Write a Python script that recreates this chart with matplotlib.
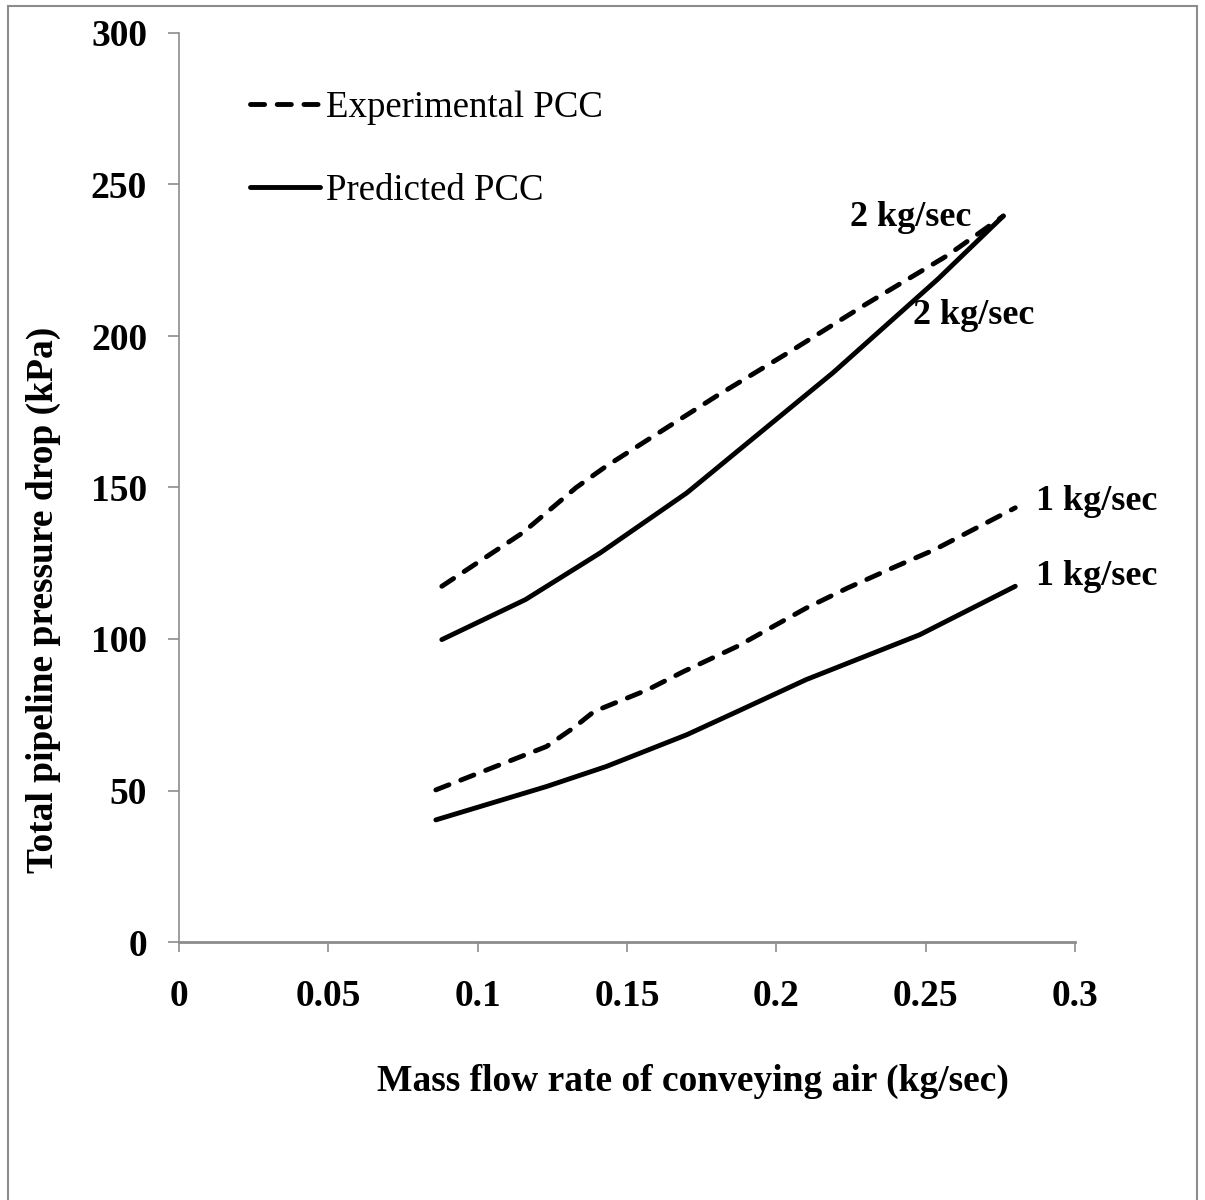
import matplotlib
matplotlib.use("Agg")
import matplotlib.pyplot as plt
from matplotlib.patches import Rectangle

plt.rcParams['font.family'] = ['Liberation Serif', 'DejaVu Serif']

# Data
x_exp_2 = [0.088, 0.115, 0.133, 0.143, 0.180, 0.204, 0.230, 0.257, 0.276]
y_exp_2 = [117.4, 135.0, 150.0, 157.0, 180.2, 194.5, 210.5, 226.4, 239.6]
x_pred_2 = [0.088, 0.116, 0.141, 0.170, 0.189, 0.219, 0.254, 0.276]
y_pred_2 = [99.8, 113.0, 128.4, 148.2, 163.6, 187.9, 218.7, 239.6]
x_exp_1 = [0.086, 0.123, 0.132, 0.139, 0.157, 0.169, 0.187, 0.210, 0.224, 0.239, 0.253, 0.280]
y_exp_1 = [50.2, 64.5, 70.6, 76.1, 83.3, 89.3, 97.6, 110.2, 116.9, 123.5, 129.5, 143.3]
x_pred_1 = [0.086, 0.123, 0.143, 0.170, 0.187, 0.210, 0.248, 0.280]
y_pred_1 = [40.3, 51.3, 57.9, 68.4, 76.1, 86.6, 101.4, 117.4]

x_ticks = [0, 0.05, 0.1, 0.15, 0.2, 0.25, 0.3]
x_tick_labels = ['0', '0.05', '0.1', '0.15', '0.2', '0.25', '0.3']
y_ticks = [0, 50, 100, 150, 200, 250, 300]

series_labels = ['Experimental PCC', 'Predicted PCC']
curve_labels = ['2 kg/sec', '2 kg/sec', '1 kg/sec', '1 kg/sec']
label_x = [0.2451, 0.2662, 0.3074, 0.3074]
label_y = [239.2, 206.8, 145.4, 120.6]

fig = plt.figure(figsize=(12.05, 12.0), dpi=100)
fig.patches.append(Rectangle((8/1205, -0.01), 1189/1205, 1.01 - 6/1200, transform=fig.transFigure,
                             fill=False, edgecolor='#8c8c8c', linewidth=1.5))
ax = fig.add_axes([179/1205, (1200-942)/1200, 896/1205, 909/1200])

lw = 3.5
dash_kw = dict(color='black', linewidth=lw, linestyle=(0, (2.9, 2.6)), dash_capstyle='round',
               solid_capstyle='round')
solid_kw = dict(color='black', linewidth=lw, solid_capstyle='round')

ax.plot(x_exp_2, y_exp_2, label=series_labels[0], **dash_kw)
ax.plot(x_pred_2, y_pred_2, label=series_labels[1], **solid_kw)
ax.plot(x_exp_1, y_exp_1, **dash_kw)
ax.plot(x_pred_1, y_pred_1, **solid_kw)

for t, lx, ly in zip(curve_labels, label_x, label_y):
    ax.text(lx, ly, t, ha='center', va='center', fontsize=26, fontweight='bold', clip_on=False)

ax.set_xlim(0, 0.3)
ax.set_ylim(0, 300)
ax.set_xticks(x_ticks)
ax.set_xticklabels(x_tick_labels)
ax.set_yticks(y_ticks)

for s in ['top', 'right']:
    ax.spines[s].set_visible(False)
ax.spines['left'].set_color('#8c8c8c')
ax.spines['bottom'].set_color('#8c8c8c')
ax.spines['left'].set_linewidth(1.2)
ax.spines['bottom'].set_linewidth(2.0)

ax.tick_params(axis='x', direction='out', length=7.5, width=1.2, color='#8c8c8c', pad=19,
               labelsize=27)
ax.tick_params(axis='y', direction='out', length=8, width=1.2, color='#8c8c8c', pad=15,
               labelsize=27)
for lab in ax.get_xticklabels() + ax.get_yticklabels():
    lab.set_fontweight('bold')

ax.set_xlabel('Mass flow rate of conveying air (kg/sec)', fontsize=27, fontweight='bold')
ax.set_ylabel('Total pipeline pressure drop (kPa)', fontsize=27, fontweight='bold')
ax.xaxis.set_label_coords((693-179)/896, (942-1064)/909)
ax.yaxis.set_label_coords((61-179)/896, (942-600)/909)

leg = ax.legend(loc='upper left', bbox_to_anchor=((235-179)/896, (942-76)/909), frameon=False,
                fontsize=26.5, handlelength=1.9, handletextpad=0.17, labelspacing=1.3,
                borderaxespad=0)

fig.savefig('out.png', dpi=100)
